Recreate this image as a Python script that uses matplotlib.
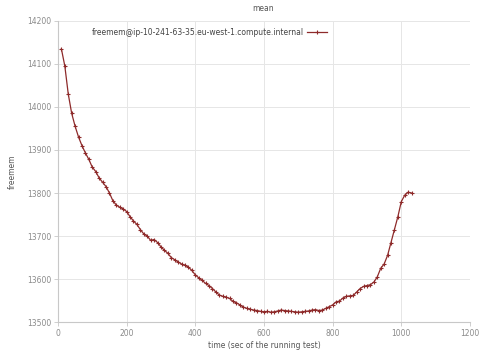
import matplotlib
matplotlib.use("Agg")
import matplotlib.pyplot as plt

# freemem samples, one every 10 s of the running test
time_s = [10, 20, 30, 40, 50, 60, 70, 80, 90, 100,
          110, 120, 130, 140, 150, 160, 170, 180, 190, 200,
          210, 220, 230, 240, 250, 260, 270, 280, 290, 300,
          310, 320, 330, 340, 350, 360, 370, 380, 390, 400,
          410, 420, 430, 440, 450, 460, 470, 480, 490, 500,
          510, 520, 530, 540, 550, 560, 570, 580, 590, 600,
          610, 620, 630, 640, 650, 660, 670, 680, 690, 700,
          710, 720, 730, 740, 750, 760, 770, 780, 790, 800,
          810, 820, 830, 840, 850, 860, 870, 880, 890, 900,
          910, 920, 930, 940, 950, 960, 970, 980, 990, 1000,
          1010, 1020, 1030]
freemem = [14135, 14095, 14030, 13985, 13955, 13930, 13910, 13893, 13878, 13860,
           13850, 13835, 13825, 13815, 13800, 13782, 13772, 13767, 13763, 13757,
           13745, 13735, 13727, 13715, 13705, 13700, 13690, 13692, 13685, 13675,
           13667, 13660, 13650, 13645, 13640, 13635, 13632, 13628, 13620, 13610,
           13603, 13597, 13590, 13585, 13578, 13570, 13563, 13560, 13558, 13555,
           13548, 13545, 13540, 13535, 13532, 13530, 13528, 13527, 13525, 13524,
           13525, 13523, 13524, 13526, 13528, 13527, 13526, 13525, 13524, 13523,
           13524, 13525, 13526, 13528, 13529, 13527, 13528, 13532, 13536, 13540,
           13547, 13549, 13556, 13560, 13561, 13562, 13570, 13578, 13583, 13585,
           13587, 13593, 13605, 13625, 13635, 13655, 13685, 13715, 13745, 13780,
           13795, 13802, 13800]
host = "freemem@ip-10-241-63-35.eu-west-1.compute.internal"

LINE = "#8e2a2a"
TXT = "#8a8a8a"

fig = plt.figure(figsize=(4.83, 3.54), dpi=100)
ax = fig.add_axes([0.120, 0.090, 0.853, 0.851])

ax.plot(time_s, freemem, "-", color=LINE, lw=0.9, marker="+", ms=3, mew=0.8,
        label=host)

ax.set_xlim(0, 1200)
ax.set_ylim(13500, 14200)
ax.set_xticks(range(0, 1201, 200))
ax.set_yticks(range(13500, 14201, 100))
ax.grid(True, color="#e6e6e6", lw=0.7)
ax.set_axisbelow(True)

for s in ("top", "right"):
    ax.spines[s].set_visible(False)
for s in ("left", "bottom"):
    ax.spines[s].set_color("#c8c8c8")
    ax.spines[s].set_linewidth(0.8)
ax.tick_params(colors="#c8c8c8", labelcolor=TXT, labelsize=5.5, length=3, width=0.6, pad=2)

ax.set_xlabel("time (sec of the running test)", fontsize=5.5, color="#555555", labelpad=2)
ax.set_ylabel("freemem", fontsize=5.5, color="#555555", labelpad=7)
fig.text(0.545, 0.976, "mean", fontsize=5.5, color="#555555", ha="center", va="center")

leg = ax.legend(loc="upper left", bbox_to_anchor=(0.065, 1.0), frameon=False,
                markerfirst=False, fontsize=5.5, handlelength=2.6, handletextpad=0.4)
for t in leg.get_texts():
    t.set_color("#444444")

fig.savefig("out.png", dpi=100)
